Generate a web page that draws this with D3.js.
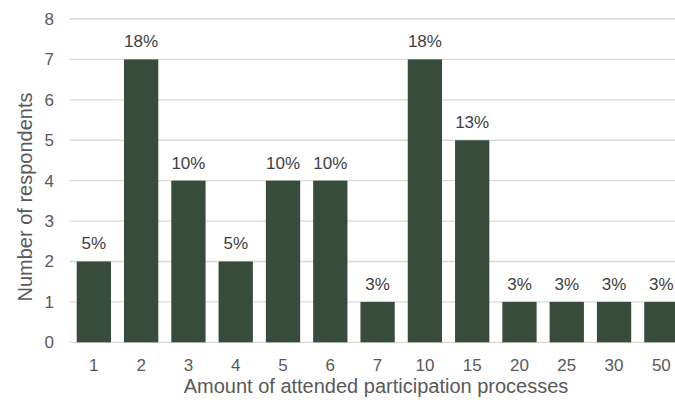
<!DOCTYPE html>
<html>
<head>
<meta charset="utf-8">
<script src="https://cdn.jsdelivr.net/npm/d3@7"></script>
<style>
  body { margin: 0; background: #fff; }
  text { font-family: "Liberation Sans", Arial, sans-serif; }
</style>
</head>
<body>
<script>
const width = 675;
const height = 403;

// chart data
const categories = ["1", "2", "3", "4", "5", "6", "7", "10", "15", "20", "25", "30", "50"];
const respondents = [2, 7, 4, 2, 4, 4, 1, 7, 5, 1, 1, 1, 1];
const shares = ["5%", "18%", "10%", "5%", "10%", "10%", "3%", "18%", "13%", "3%", "3%", "3%", "3%"];
const yTicks = [0, 1, 2, 3, 4, 5, 6, 7, 8];

var svg = d3.select("body")
  .append("svg")
  .attr("width", width)
  .attr("height", height);

// plot runs past the right edge, as in the original
var x = d3.scaleBand()
  .domain(categories)
  .range([70.2, 685])
  .paddingInner(0.275)
  .paddingOuter(0.1375);

var y = d3.scaleLinear()
  .domain([0, 8])
  .range([342.3, 19]);

// gridlines
svg.append("g")
  .selectAll("line")
  .data(yTicks)
  .enter()
  .append("line")
  .attr("x1", 70)
  .attr("x2", width)
  .attr("y1", d => y(d))
  .attr("y2", d => y(d))
  .attr("stroke", "#d9d9d9")
  .attr("stroke-width", 1.3);

// y tick labels
svg.append("g")
  .selectAll("text")
  .data(yTicks)
  .enter()
  .append("text")
  .attr("x", 54)
  .attr("y", d => y(d))
  .attr("dy", "0.35em")
  .attr("text-anchor", "end")
  .attr("font-size", 17)
  .attr("fill", "#595959")
  .text(d => d);

// bars
svg.append("g")
  .selectAll("rect")
  .data(respondents)
  .enter()
  .append("rect")
  .attr("x", (d, i) => x(categories[i]))
  .attr("width", x.bandwidth())
  .attr("y", d => y(d))
  .attr("height", d => y(0) - y(d))
  .attr("fill", "#374c3b");

// percentage labels
svg.append("g")
  .selectAll("text")
  .data(respondents)
  .enter()
  .append("text")
  .attr("x", (d, i) => x(categories[i]) + x.bandwidth() / 2)
  .attr("y", d => y(d) - 12)
  .attr("text-anchor", "middle")
  .attr("font-size", 17)
  .attr("fill", "#404040")
  .text((d, i) => shares[i]);

// x tick labels
svg.append("g")
  .selectAll("text")
  .data(categories)
  .enter()
  .append("text")
  .attr("x", d => x(d) + x.bandwidth() / 2)
  .attr("y", 365)
  .attr("dy", "0.35em")
  .attr("text-anchor", "middle")
  .attr("font-size", 17)
  .attr("fill", "#595959")
  .text(d => d);

// axis titles
svg.append("text")
  .attr("x", 376)
  .attr("y", 393)
  .attr("text-anchor", "middle")
  .attr("font-size", 20)
  .attr("fill", "#595959")
  .text("Amount of attended participation processes");

svg.append("text")
  .attr("transform", "translate(32,197) rotate(-90)")
  .attr("text-anchor", "middle")
  .attr("font-size", 20)
  .attr("fill", "#595959")
  .text("Number of respondents");
</script>
</body>
</html>
